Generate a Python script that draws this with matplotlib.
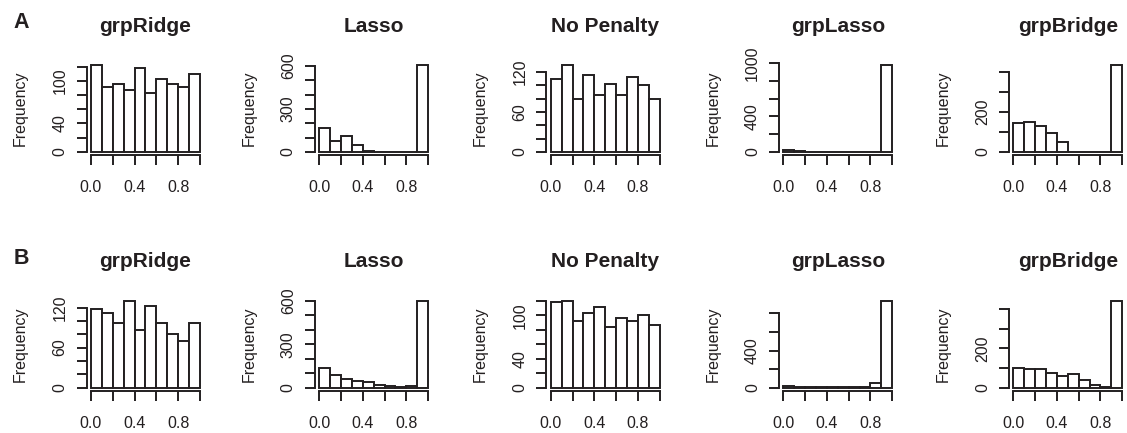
# two rows of coefficient histograms, one panel per penalty method
import numpy as np
import matplotlib
matplotlib.use("Agg")
import matplotlib.pyplot as plt

plt.rcParams['font.family'] = ['Liberation Sans', 'DejaVu Sans']

# histogram bins (width 0.1 on [0, 1])
bin_edges = np.array([0.0, 0.1, 0.2, 0.3, 0.4, 0.5, 0.6, 0.7, 0.8, 0.9, 1.0])
methods = ["grpRidge", "Lasso", "No Penalty", "grpLasso", "grpBridge"]
row_labels = ["A", "B"]

# counts, row A
a_grpridge = [122, 92, 96, 87, 118, 83, 102, 96, 92, 110]
a_lasso = [167, 74, 112, 49, 9, 0, 0, 0, 0, 605]
a_nopenalty = [110, 130, 80, 116, 85, 102, 86, 112, 101, 79]
a_grplasso = [25, 8, 0, 0, 0, 0, 0, 0, 0, 974]
a_grpbridge = [143, 150, 130, 93, 47, 0, 0, 0, 0, 433]

# row B
b_grpridge = [118, 112, 97, 130, 87, 122, 97, 81, 70, 97]
b_lasso = [138, 87, 62, 48, 39, 21, 14, 7, 14, 600]
b_nopenalty = [119, 120, 92, 103, 111, 84, 97, 92, 100, 87]
b_grplasso = [21, 7, 10, 2, 1, 1, 3, 10, 47, 935]
b_grpbridge = [101, 94, 94, 74, 60, 67, 41, 12, 3, 443]

# y axis: tick step, last tick, and which ticks carry a label
a_ystep = [20, 100, 20, 200, 100]
a_ytop = [120, 600, 120, 1000, 400]
a_ylab = [[0, 40, 100], [0, 300, 600], [0, 60, 120], [0, 400, 1000], [0, 200]]
b_ystep = [20, 100, 20, 200, 100]
b_ytop = [120, 600, 120, 800, 400]
b_ylab = [[0, 60, 120], [0, 300, 600], [0, 40, 100], [0, 400], [0, 200]]

x_ticks = [0.0, 0.2, 0.4, 0.6, 0.8, 1.0]
x_ticklabels = ["0.0", "", "0.4", "", "0.8", ""]

ink = '#231f20'
W, H = 1127, 433
fig = plt.figure(figsize=(W / 100, H / 100), dpi=100)

# panel placement in pixels
col_left = [86.6, 314.9, 546.4, 779.0, 1009.0]
panel_w = 117.6
row_top = [61.8, 297.5]
panel_h = 93.5


def draw_hist(ax, counts, step, top, labeled):
    ax.bar(bin_edges[:-1], counts, width=0.1, align='edge',
           facecolor='white', edgecolor=ink, linewidth=1.4)
    ymax = max(counts)
    ax.set_xlim(-0.04, 1.04)
    ax.set_ylim(-0.04 * ymax, 1.04 * ymax)
    ax.spines[['top', 'right']].set_visible(False)
    for side in ['left', 'bottom']:
        ax.spines[side].set_linewidth(1.4)
        ax.spines[side].set_color(ink)
    ax.spines['left'].set_bounds(0, top)
    ax.spines['bottom'].set_bounds(0, 1)

    ax.set_xticks(x_ticks)
    ax.set_xticklabels(x_ticklabels)
    yt = list(range(0, top + 1, step))
    ax.set_yticks(yt)
    ax.set_yticklabels([str(v) if v in labeled else "" for v in yt],
                       rotation=90, va='center')
    ax.tick_params(direction='out', length=7.2, width=1.4, color=ink,
                   labelcolor=ink, labelsize=11.5)
    ax.tick_params(axis='x', pad=10.5)
    ax.tick_params(axis='y', pad=6.5)


rows = [
    ([a_grpridge, a_lasso, a_nopenalty, a_grplasso, a_grpbridge], a_ystep, a_ytop, a_ylab),
    ([b_grpridge, b_lasso, b_nopenalty, b_grplasso, b_grpbridge], b_ystep, b_ytop, b_ylab),
]

for r, (series, steps, tops, labs) in enumerate(rows):
    y0 = row_top[r]
    for c in range(5):
        x0 = col_left[c]
        ax = fig.add_axes([x0 / W, 1 - (y0 + panel_h) / H, panel_w / W, panel_h / H])
        draw_hist(ax, series[c], steps[c], tops[c], labs[c])
        # title and axis label placed in pixels
        fig.text((x0 + panel_w / 2) / W, 1 - (y0 - 30.1) / H, methods[c],
                 ha='center', va='baseline', fontsize=15, fontweight='bold', color=ink)
        fig.text((x0 - 66) / W, 1 - (y0 + panel_h / 2) / H, "Frequency",
                 ha='center', va='center', rotation=90, fontsize=11.5, color=ink)
    fig.text(13.3 / W, 1 - (y0 - 33.5) / H, row_labels[r],
             ha='left', va='baseline', fontsize=15.5, fontweight='bold', color=ink)

fig.savefig("out.png", dpi=100)
